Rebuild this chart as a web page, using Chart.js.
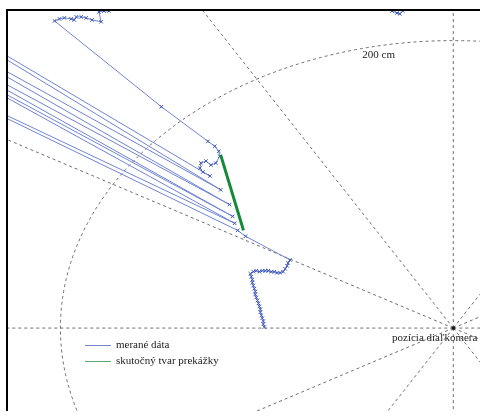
<!DOCTYPE html>
<html>
<head>
<meta charset="utf-8">
<script src="https://cdn.jsdelivr.net/npm/chart.js@4/dist/chart.umd.min.js"></script>
<style>
  body { margin: 0; background: #fff; }
  canvas { display: block; }
</style>
</head>
<body>
<canvas id="scan" width="485" height="416"></canvas>
<script>
// measured scan points (cm), in scan order
const measX = [
  -96.2, -96.7, -96.7, -97.2, -97.7, -98.2, -98.2, -98.7, -99.2, -99.7,
  -100.3, -100.8, -100.8, -101.3, -101.8, -102.3, -102.3, -102.8, -103.3,
  -101.8, -100.3, -98.7, -97.2, -95.7, -94.2, -92.7, -91.2, -89.7, -88.2,
  -86.6, -85.6, -84.6, -84.1, -83.1,
  -105.8, -109.8, -356.7, -111.3, -356.7, -112.3, -356.7, -113.9, -356.7,
  -118.4, -356.7, -123.9,
  -127.5, -129.0, -128.5, -125.9, -123.4, -120.9, -118.9, -119.4, -121.4, -124.9,
  -148.6,
  -203.0, -200.5, -198.0, -194.5, -193.0, -191.9, -189.4, -186.9, -183.9, -179.3,
  -180.4, -177.8, -175.3,
  -150.1, -67.5,
  -31.2, -28.7, -27.2, -25.7,
  0
];
const measY = [
  0.7, 2.7, 4.8, 6.9, 8.9, 11.0, 13.1, 15.1, 17.2, 19.2,
  21.3, 23.4, 25.4, 27.5, 29.6, 31.6, 33.7, 35.7, 37.8,
  39.2, 39.9, 39.2, 39.9, 39.9, 39.9, 39.2, 39.2, 38.5, 38.5,
  39.2, 41.2, 43.3, 45.4, 47.4,
  63.9, 68.0, 231.6, 72.9, 257.7, 77.7, 264.6, 85.9, 276.3,
  96.2, 294.2, 105.8,
  108.6, 111.3, 114.8, 116.2, 113.4, 114.8, 119.6, 123.0, 126.5, 129.9,
  154.0,
  213.7, 215.1, 215.8, 215.1, 214.4, 216.5, 216.5, 215.8, 214.4, 213.1,
  219.9, 220.6, 220.6,
  259.8, 250.9,
  220.6, 219.2, 218.6, 220.6,
  239.9
];
// real obstacle edge (cm)
const shapeX = [-118.4, -106.8];
const shapeY = [120.3, 68.0];

// polar grid
const gridRadii = [200];
const gridAngles = [0, 30, 60, 90, 120, 150, 180, 210, 240, 270, 300, 330];
const radiusLabel = '200 cm';
const originLabel = 'pozícia diaľkomera';
const seriesNames = ['merané dáta', 'skutočný tvar prekážky'];

const FONT = '11px "Liberation Serif", "DejaVu Serif", serif';

const toPoints = (xs, ys) => xs.map((x, i) => ({ x: x, y: ys[i] }));

const polarGrid = {
  id: 'polarGrid',
  beforeDatasetsDraw(chart) {
    const { ctx, chartArea: a, scales: { x, y } } = chart;
    const cx = x.getPixelForValue(0), cy = y.getPixelForValue(0);
    ctx.save();
    ctx.beginPath();
    ctx.rect(a.left, a.top, a.right - a.left, a.bottom - a.top);
    ctx.clip();
    ctx.strokeStyle = '#6e6e6e';
    ctx.lineWidth = 1;
    ctx.setLineDash([3, 3]);
    gridRadii.forEach(r => {
      const rx = x.getPixelForValue(r) - cx;
      const ry = cy - y.getPixelForValue(r);
      ctx.beginPath();
      ctx.ellipse(cx, cy, rx, ry, 0, 0, Math.PI * 2);
      ctx.stroke();
    });
    gridAngles.forEach(deg => {
      const t = deg * Math.PI / 180;
      ctx.beginPath();
      ctx.moveTo(cx, cy);
      ctx.lineTo(x.getPixelForValue(1000 * Math.cos(t)), y.getPixelForValue(1000 * Math.sin(t)));
      ctx.stroke();
    });
    ctx.setLineDash([]);

    // texts
    ctx.fillStyle = '#222';
    ctx.font = FONT;
    ctx.textBaseline = 'middle';
    ctx.textAlign = 'center';
    ctx.fillText(radiusLabel, x.getPixelForValue(-38), y.getPixelForValue(190));
    ctx.textAlign = 'left';
    ctx.fillText(originLabel, x.getPixelForValue(-31.2), y.getPixelForValue(-6.9));
    ctx.fillStyle = '#111';
    ctx.fillRect(cx - 1.5, cy - 1.5, 3, 3);
    ctx.restore();
  },
  afterDraw(chart) {
    const { ctx, chartArea: a } = chart;
    ctx.save();
    // frame (only top and left edges fall inside the picture)
    ctx.strokeStyle = '#000';
    ctx.lineWidth = 2;
    ctx.beginPath();
    ctx.moveTo(a.left, a.bottom);
    ctx.lineTo(a.left, a.top);
    ctx.lineTo(a.right, a.top);
    ctx.stroke();

    // legend
    ctx.font = FONT;
    ctx.textBaseline = 'middle';
    ctx.textAlign = 'left';
    chart.data.datasets.forEach((ds, i) => {
      const ly = 345 + i * 16;
      ctx.strokeStyle = ds.legendColor;
      ctx.lineWidth = 1;
      ctx.beginPath();
      ctx.moveTo(85, ly + 0.5);
      ctx.lineTo(111, ly + 0.5);
      ctx.stroke();
      ctx.fillStyle = '#222';
      ctx.fillText(ds.label, 116, ly);
    });
    ctx.restore();
  }
};

new Chart(document.getElementById('scan'), {
  type: 'scatter',
  data: {
    datasets: [
      {
        label: seriesNames[0],
        data: toPoints(measX, measY),
        showLine: true,
        borderColor: '#6f84d2',
        pointBorderColor: '#3d56b8',
        backgroundColor: '#3d56b8',
        legendColor: '#7684c8',
        borderWidth: 1,
        pointStyle: 'crossRot',
        pointRadius: 2.5,
        pointBorderWidth: 1,
        order: 2
      },
      {
        label: seriesNames[1],
        data: toPoints(shapeX, shapeY),
        showLine: true,
        borderColor: '#138a35',
        legendColor: '#5ea872',
        borderWidth: 3,
        pointRadius: 0,
        order: 1
      }
    ]
  },
  options: {
    responsive: false,
    animation: false,
    layout: { padding: { left: 7, top: 10, right: 0, bottom: 0 } },
    scales: {
      x: { type: 'linear', min: -227.2, max: 13.6, display: false },
      y: { type: 'linear', min: -57.7, max: 221.3, display: false }
    },
    plugins: {
      legend: { display: false },
      tooltip: { enabled: false }
    }
  },
  plugins: [polarGrid]
});
</script>
</body>
</html>
